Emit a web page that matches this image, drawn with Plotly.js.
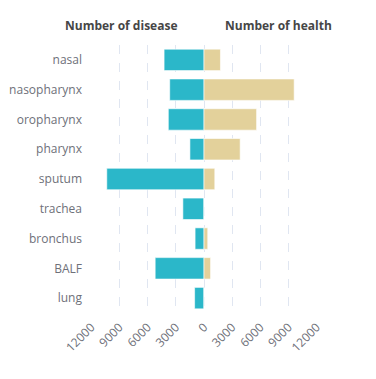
<!DOCTYPE html>
<html>
<head>
<meta charset="utf-8">
<script src="https://cdn.plot.ly/plotly-3.0.1.min.js"></script>
<style>html,body{margin:0;padding:0;background:#fff;}#chart{width:376px;height:379px;}</style>
</head>
<body>
<div id="chart"></div>
<script>
const categories = ["nasal","nasopharynx","oropharynx","pharynx","sputum","trachea","bronchus","BALF","lung"];
const diseaseCounts = [4250, 3650, 3800, 1500, 10350, 2250, 950, 5200, 1000];
const healthCounts = [1750, 9600, 5600, 3850, 1150, 0, 400, 700, 0];
const tickValues = [-12000, -9000, -6000, -3000, 0, 3000, 6000, 9000, 12000];
const tickLabels = ["12000", "9000", "6000", "3000", "0", "3000", "6000", "9000", "12000"];

const font = "'Open Sans', 'Noto Sans', sans-serif";

const traces = [
  {
    type: "bar", orientation: "h", name: "Number of disease",
    y: categories, x: diseaseCounts.map(v => -v),
    marker: {color: "#2BB7C9", line: {color: "rgba(255,255,255,0.6)", width: 1}},
    hoverinfo: "skip"
  },
  {
    type: "bar", orientation: "h", name: "Number of health",
    y: categories, x: healthCounts,
    marker: {color: "#E3D19B", line: {color: "rgba(255,255,255,0.6)", width: 1}},
    hoverinfo: "skip"
  }
];

const layout = {
  width: 376, height: 379,
  margin: {l: 91, r: 59, t: 45, b: 66},
  paper_bgcolor: "#fff", plot_bgcolor: "#fff",
  barmode: "relative", bargap: 0.28,
  showlegend: false,
  font: {family: font, color: "#6E7079", size: 12},
  xaxis: {
    range: [-12030, 12030],
    tickvals: tickValues, ticktext: tickLabels,
    tickangle: -45,
    showgrid: true, gridcolor: "#E0E6F1", griddash: "dash", gridwidth: 1,
    zeroline: false, showline: false, ticks: "",
    ticklabelstandoff: 4,
    tickfont: {family: font, size: 12, color: "#6E7079"},
    fixedrange: true
  },
  yaxis: {
    autorange: "reversed",
    showgrid: false, zeroline: false, showline: false, ticks: "",
    ticklabelstandoff: 8,
    tickfont: {family: font, size: 12, color: "#6E7079"},
    fixedrange: true
  },
  annotations: [
    {text: "<b>Number of disease</b>", xref: "paper", yref: "paper", x: (121 - 91) / 226, y: 1, yshift: 20, showarrow: false, xanchor: "center", yanchor: "middle", font: {family: font, size: 12, color: "#464646"}},
    {text: "<b>Number of health</b>", xref: "paper", yref: "paper", x: (278 - 91) / 226, y: 1, yshift: 20, showarrow: false, xanchor: "center", yanchor: "middle", font: {family: font, size: 12, color: "#464646"}}
  ]
};

Plotly.newPlot("chart", traces, layout, {displayModeBar: false, staticPlot: true});
</script>
</body>
</html>
